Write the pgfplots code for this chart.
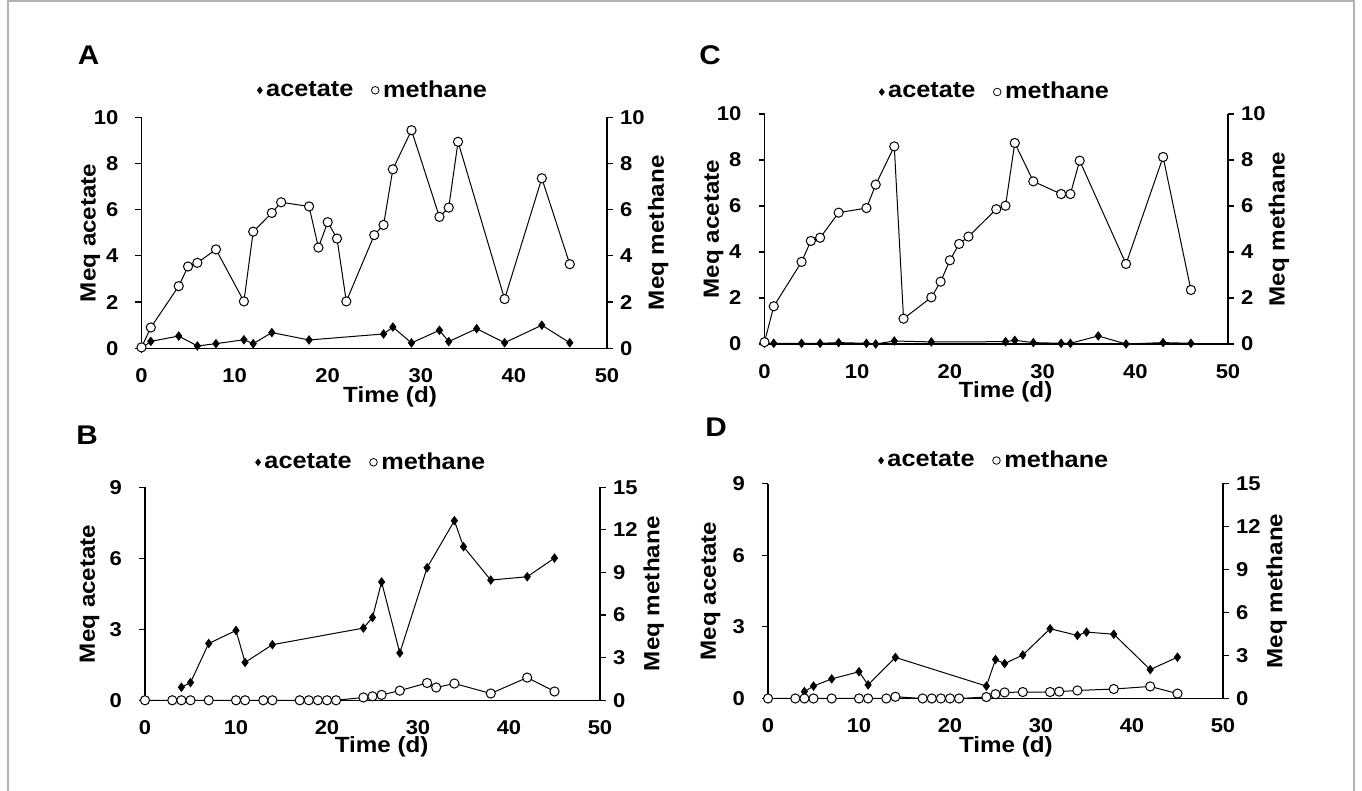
\documentclass[border=0pt]{standalone}
\usepackage{fontspec}
\setmainfont{Liberation Sans}[FakeStretch=1.1]
\usepackage{pgfplots}
\pgfplotsset{compat=1.18}

\pgfplotstableread{
x y
0 0
1 0.30
4 0.53
6 0.10
8 0.20
11 0.37
12 0.20
14 0.68
18 0.36
26 0.62
27 0.92
29 0.23
32 0.78
33 0.29
36 0.85
39 0.24
43 1.00
46 0.24
}\acetA
\pgfplotstableread{
x y
0 0.04
1 0.90
4 2.69
5 3.54
6 3.70
8 4.28
11 2.03
12 5.05
14 5.86
15 6.32
18 6.14
19 4.36
20 5.46
21 4.75
22 2.03
25 4.90
26 5.34
27 7.75
29 9.44
32 5.69
33 6.09
34 8.94
39 2.13
43 7.36
46 3.64
}\methA
\pgfplotstableread{
x y
0 0.03
1 0.03
4 0.03
6 0.03
8 0.06
11 0.03
12 0.00
14 0.13
18 0.09
26 0.10
27 0.16
29 0.06
32 0.03
33 0.03
36 0.35
39 0.00
43 0.06
46 0.03
}\acetC
\pgfplotstableread{
x y
0 0.08
1 1.64
4 3.57
5 4.48
6 4.62
8 5.71
11 5.91
12 6.93
14 8.59
15 1.10
18 2.03
19 2.71
20 3.64
21 4.35
22 4.67
25 5.86
26 6.01
27 8.74
29 7.07
32 6.52
33 6.52
34 7.97
39 3.48
43 8.13
46 2.35
}\methC
\pgfplotstableread{
x y
4 0.55
5 0.75
7 2.40
10 2.95
11 1.60
14 2.35
24 3.05
25 3.50
26 5.00
28 2.00
31 5.60
34 7.59
35 6.49
38 5.08
42 5.22
45 6.01
}\acetB
\pgfplotstableread{
x y
0 0
3 0
4 0
5 0
7 0
10 0
11 0
13 0
14 0
17 0
18 0
19 0
20 0
21 0
24 0.20
25 0.28
26 0.38
28 0.68
31 1.22
32 0.90
34 1.18
38 0.48
42 1.60
45 0.62
}\methB
\pgfplotstableread{
x y
4 0.29
5 0.52
7 0.82
10 1.12
11 0.57
14 1.72
24 0.52
25 1.63
26 1.46
28 1.82
31 2.92
34 2.64
35 2.78
38 2.69
42 1.21
45 1.73
}\acetD
\pgfplotstableread{
x y
0 0
3 0
4 0
5 0
7 0
10 0
11 0
13 0
14 0.12
17 0
18 0
19 0
20 0
21 0
24 0.10
25 0.30
26 0.42
28 0.45
31 0.45
32 0.48
34 0.56
38 0.66
42 0.84
45 0.34
}\methD

\pgfplotsset{
  base/.style={
    scale only axis, xmin=0, xmax=50, clip=false,
    axis line style={line width=0.6pt, black},
    tick align=outside, major tick length=3pt,
    every tick/.style={line width=0.6pt, black},
    ticklabel style={font=\fontsize{10}{11}\selectfont\bfseries},
    /pgf/number format/assume math mode=true,
    label style={font=\fontsize{11}{13}\selectfont\bfseries},
  },
  lefta/.style={base,
    axis y line*=left, axis x line*=bottom,
    xtick={0,10,...,50}, x tick style={draw=none},
    yticklabel style={xshift=-5pt},
    xticklabel style={yshift=-3.5pt},
    legend columns=2,
    legend style={draw=none, fill=none, inner sep=0pt,
      font=\fontsize{11.5}{13}\selectfont\bfseries,
      /tikz/every even column/.append style={column sep=7pt}},
    legend image code/.code={\draw[##1] plot coordinates {(0pt,0pt)};},
  },
  righta/.style={base,
    axis y line*=right, axis x line=none, xtick=\empty,
    yticklabel style={xshift=0pt},
  },
  acet/.style={black, line width=0.5pt, mark=diamond*, mark size=2pt, mark options={solid, fill=black}},
  meth/.style={black, line width=0.5pt, mark=*, mark size=2.3pt, mark options={solid, fill=white, line width=0.5pt}},
  legA/.style={only marks, mark=diamond*, mark size=1.6pt, black},
  legM/.style={only marks, mark=o, mark size=1.9pt, black, mark options={line width=0.4pt}},
}

\begin{document}
\begin{tikzpicture}
\useasboundingbox (0pt,0pt) rectangle (681pt,395.5pt);
\draw[gray!60, line width=0.6pt] (4pt,-5pt) -- (4pt,395pt) -- (677pt,395pt) -- (677pt,-5pt);

\node[font=\fontsize{13.5}{15}\selectfont\bfseries] at (44.25pt,368pt) {A};
\node[font=\fontsize{13.5}{15}\selectfont\bfseries] at (355pt,368pt) {C};
\node[font=\fontsize{13.5}{15}\selectfont\bfseries] at (43.5pt,178pt) {B};
\node[font=\fontsize{13.5}{15}\selectfont\bfseries] at (358pt,182pt) {D};

% ---------- Panel A ----------
\begin{axis}[lefta, at={(70.75pt,221.35pt)}, anchor=south west,
  width=232.75pt, height=115.5pt, ymin=0, ymax=10, ytick={0,2,...,10},
  xlabel={Time (d)}, ylabel={Meq acetate},
  xlabel style={at={(axis description cs:0.534,0)}, anchor=center, yshift=-24.5pt},
  ylabel style={at={(axis description cs:-0.11,0.5)}, anchor=center},
  legend style={at={(axis description cs:0.5,1)}, anchor=center, yshift=13.5pt}]
\addplot[acet, forget plot] table {\acetA};
\addlegendimage{legA}\addlegendentry{acetate}
\addlegendimage{legM}\addlegendentry{methane}
\end{axis}
\begin{axis}[righta, at={(70.75pt,221.35pt)}, anchor=south west,
  width=232.75pt, height=115.5pt, ymin=0, ymax=10, ytick={0,2,...,10},
  ylabel={Meq methane},
  ylabel style={at={(axis description cs:1.11,0.5)}, anchor=center}]
\addplot[meth] table {\methA};
\end{axis}

% ---------- Panel C ----------
\begin{axis}[lefta, at={(382.25pt,223.5pt)}, anchor=south west,
  width=231.75pt, height=115pt, ymin=0, ymax=10, ytick={0,2,...,10},
  xlabel={Time (d)}, ylabel={Meq acetate},
  xlabel style={at={(axis description cs:0.52,0)}, anchor=center, yshift=-24pt},
  ylabel style={at={(axis description cs:-0.11,0.5)}, anchor=center},
  legend style={at={(axis description cs:0.5,1)}, anchor=center, yshift=11pt}]
\addplot[acet, forget plot] table {\acetC};
\addlegendimage{legA}\addlegendentry{acetate}
\addlegendimage{legM}\addlegendentry{methane}
\end{axis}
\begin{axis}[righta, at={(382.25pt,223.5pt)}, anchor=south west,
  width=231.75pt, height=115pt, ymin=0, ymax=10, ytick={0,2,...,10},
  ylabel={Meq methane},
  ylabel style={at={(axis description cs:1.11,0.5)}, anchor=center}]
\addplot[meth] table {\methC};
\end{axis}

% ---------- Panel B ----------
\begin{axis}[lefta, at={(72.5pt,45.35pt)}, anchor=south west,
  width=227.5pt, height=106.5pt, ymin=0, ymax=9, ytick={0,3,...,9},
  xlabel={Time (d)}, ylabel={Meq acetate},
  xlabel style={at={(axis description cs:0.52,0)}, anchor=center, yshift=-23.5pt},
  ylabel style={at={(axis description cs:-0.122,0.5)}, anchor=center},
  legend style={at={(axis description cs:0.5,1)}, anchor=center, yshift=12.5pt}]
\addplot[acet, forget plot] table {\acetB};
\addlegendimage{legA}\addlegendentry{acetate}
\addlegendimage{legM}\addlegendentry{methane}
\end{axis}
\begin{axis}[righta, at={(72.5pt,45.35pt)}, anchor=south west,
  width=227.5pt, height=106.5pt, ymin=0, ymax=15, ytick={0,3,...,15},
  ylabel={Meq methane},
  ylabel style={at={(axis description cs:1.118,0.5)}, anchor=center}]
\addplot[meth] table {\methB};
\end{axis}

% ---------- Panel D ----------
\begin{axis}[lefta, at={(384pt,46.25pt)}, anchor=south west,
  width=227.5pt, height=107.5pt, ymin=0, ymax=9, ytick={0,3,...,9},
  xlabel={Time (d)}, ylabel={Meq acetate},
  xlabel style={at={(axis description cs:0.523,0)}, anchor=center, yshift=-24pt},
  ylabel style={at={(axis description cs:-0.126,0.5)}, anchor=center},
  legend style={at={(axis description cs:0.5,1)}, anchor=center, yshift=11.5pt}]
\addplot[acet, forget plot] table {\acetD};
\addlegendimage{legA}\addlegendentry{acetate}
\addlegendimage{legM}\addlegendentry{methane}
\end{axis}
\begin{axis}[righta, at={(384pt,46.25pt)}, anchor=south west,
  width=227.5pt, height=107.5pt, ymin=0, ymax=15, ytick={0,3,...,15},
  ylabel={Meq methane},
  ylabel style={at={(axis description cs:1.118,0.5)}, anchor=center}]
\addplot[meth] table {\methD};
\end{axis}
\end{tikzpicture}
\end{document}
